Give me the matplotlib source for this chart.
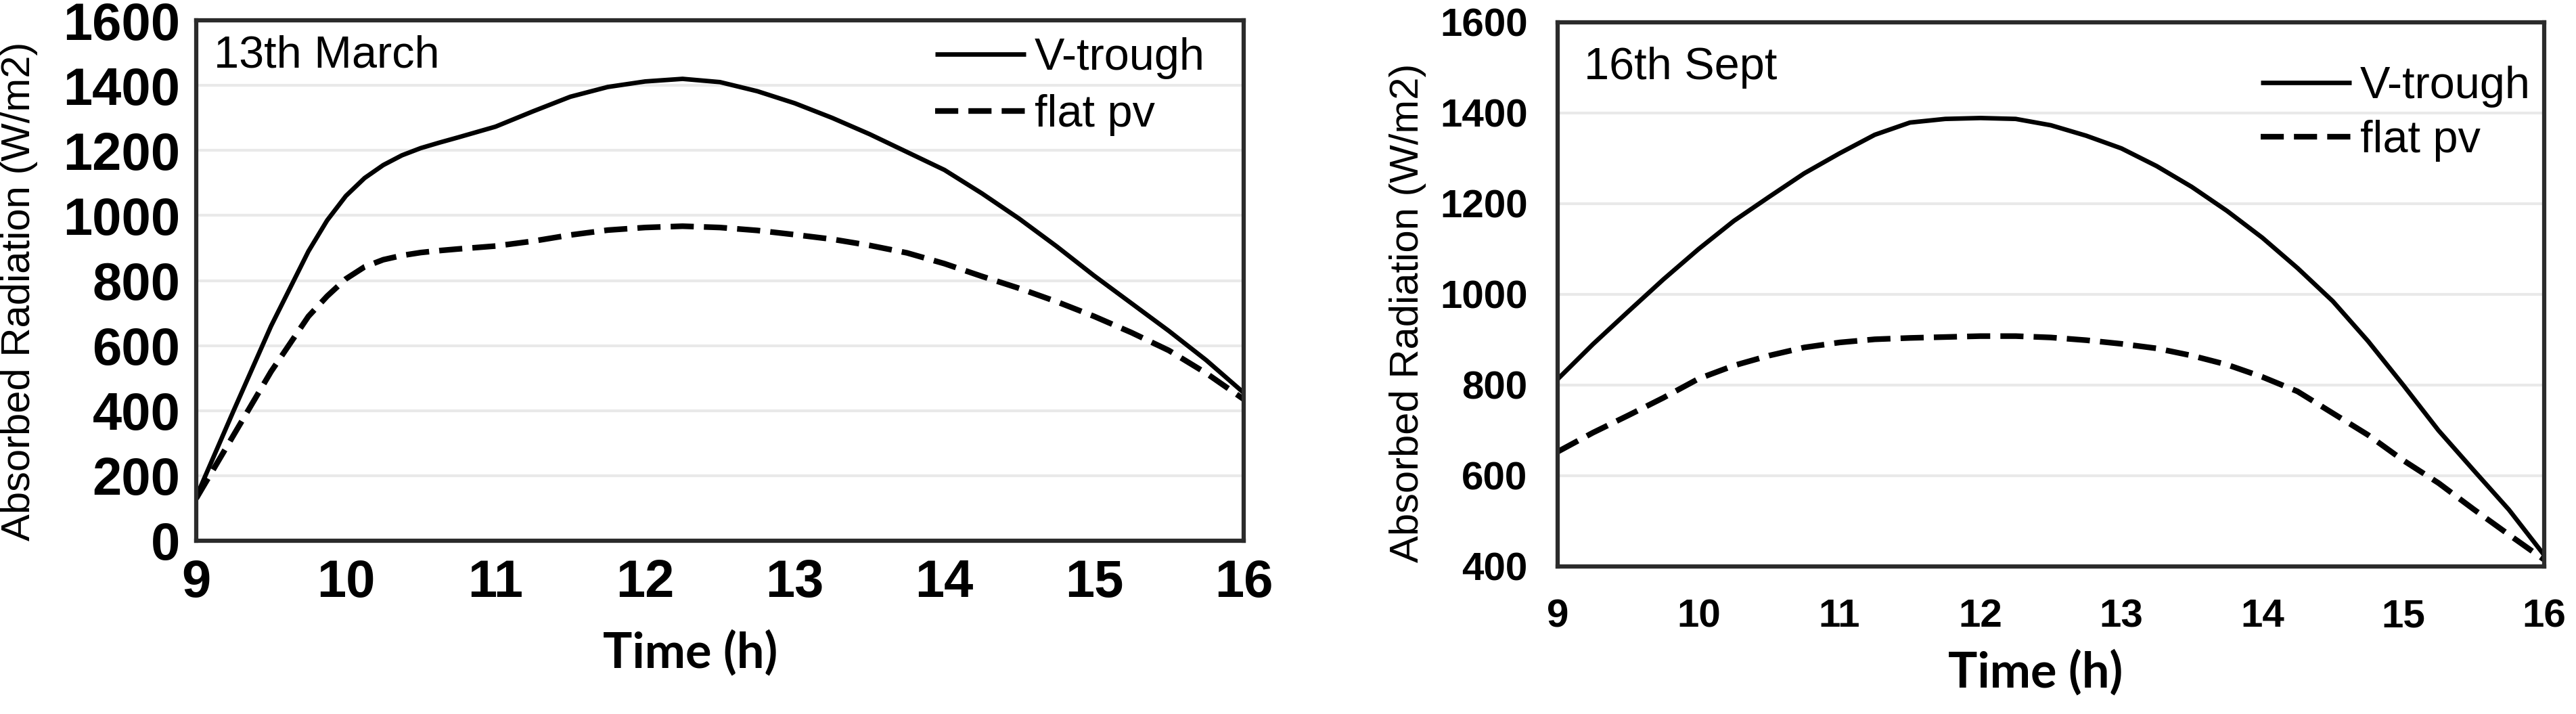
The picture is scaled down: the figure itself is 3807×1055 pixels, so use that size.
import matplotlib
matplotlib.use("Agg")
import matplotlib.pyplot as plt

# (extra points where the March curves bend)
march_hours = [9.0, 9.25, 9.5, 9.75, 9.875, 10.0, 10.125, 10.25, 10.375, 10.5, 10.625,
               10.75, 11.0, 11.25, 11.5, 11.75, 12.0, 12.25, 12.5, 12.75, 13.0, 13.25,
               13.5, 13.75, 14.0, 14.25, 14.5, 14.75, 15.0, 15.25, 15.5, 15.75, 16.0]
march_vtrough = [135, 400, 660, 890, 985, 1060, 1115, 1155, 1185, 1207, 1224,
                 1240, 1273, 1320, 1365, 1395, 1412, 1420, 1410, 1382, 1345, 1300,
                 1250, 1195, 1140, 1068, 990, 905, 815, 730, 645, 555, 455]
march_flat = [130, 325, 520, 690, 752, 805, 842, 864, 877, 886, 892,
              897, 906, 921, 940, 955, 963, 967, 963, 954, 941, 927,
              908, 885, 852, 813, 776, 735, 690, 640, 585, 515, 435]

sept_hours = [9.0, 9.25, 9.5, 9.75, 10.0, 10.25, 10.5, 10.75, 11.0, 11.25, 11.5, 11.75,
              12.0, 12.25, 12.5, 12.75, 13.0, 13.25, 13.5, 13.75, 14.0, 14.25, 14.5, 14.75,
              15.0, 15.25, 15.5, 15.75, 16.0]
sept_vtrough = [813, 890, 962, 1033, 1100, 1162, 1215, 1267, 1311, 1352, 1379, 1387,
                1389, 1387, 1373, 1350, 1322, 1283, 1237, 1184, 1125, 1058, 985, 897,
                800, 700, 612, 525, 425]
sept_flat = [653, 695, 733, 772, 814, 843, 865, 883, 894, 901, 904, 906,
             908, 908, 905, 899, 891, 881, 865, 845, 818, 786, 738, 690,
             634, 584, 526, 470, 415]

x_ticks = [9, 10, 11, 12, 13, 14, 15, 16]
march_yticks = [0, 200, 400, 600, 800, 1000, 1200, 1400, 1600]
sept_yticks = [400, 600, 800, 1000, 1200, 1400, 1600]

W, H = 3807, 1055
fig = plt.figure(figsize=(W / 100, H / 100), dpi=100)
plt.rcParams['font.family'] = ['Liberation Sans', 'DejaVu Sans']


def px_rect(x0, y0, x1, y1):
    # pixel box (top-left origin) -> figure fraction rect
    return [x0 / W, 1 - y1 / H, (x1 - x0) / W, (y1 - y0) / H]


def style_axes(ax, yticks, tick_size, xpad, ypad):
    ax.set_xlim(9, 16)
    ax.set_ylim(yticks[0], yticks[-1])
    ax.set_xticks(x_ticks)
    ax.set_yticks(yticks)
    ax.grid(axis='y', color='#e9e9e9', lw=3)
    ax.set_axisbelow(True)
    for s in ax.spines.values():
        s.set_color('#2b2b2b')
        s.set_linewidth(4.5)
    ax.tick_params(axis='both', length=0, labelsize=tick_size)
    ax.tick_params(axis='x', pad=xpad)
    ax.tick_params(axis='y', pad=ypad)
    for lab in ax.get_xticklabels() + ax.get_yticklabels():
        lab.set_fontweight('bold')


panels = [
    (px_rect(290, 30, 1838, 799), march_hours, march_vtrough, march_flat, march_yticks,
     56, 19, 17, '13th March', (316, 99), (1781, 55), 0.33, (29, 430), (1020, 965)),
    (px_rect(2302, 33, 3760, 837), sept_hours, sept_vtrough, sept_flat, sept_yticks,
     42, 34, 32, '16th Sept', (2341, 117), (3740, 97), 0.27, (2080, 462), (3008, 994)),
]

for (rect, hrs, vt, fl, yt, tsize, xpad, ypad, title, tpos, lpos, lspace,
     ylpos, xlpos) in panels:
    ax = fig.add_axes(rect)
    ax.plot(hrs, vt, color='black', lw=4.8, label='V-trough', solid_capstyle='butt')
    ax.plot(hrs, fl, color='black', lw=6, dashes=(4.1, 1.8), label='flat pv')
    style_axes(ax, yt, tsize, xpad, ypad)
    ax.legend(loc='upper right', bbox_to_anchor=(lpos[0] / W, 1 - lpos[1] / H),
              bbox_transform=fig.transFigure, frameon=False, fontsize=48,
              handlelength=2.0, handletextpad=0.2, labelspacing=lspace,
              borderpad=0, borderaxespad=0)
    fig.text(tpos[0] / W, 1 - tpos[1] / H, title, fontsize=48, va='baseline', ha='left')
    fig.text(ylpos[0] / W, 1 - ylpos[1] / H, 'Absorbed Radiation (W/m2)', fontsize=43,
             rotation=90, va='center', ha='center')
    fig.text(xlpos[0] / W, 1 - xlpos[1] / H, 'Time (h)', fontsize=52, fontweight='bold',
             family=['Lato', 'DejaVu Sans'], va='center', ha='center')

fig.savefig('out.png', dpi=100)
